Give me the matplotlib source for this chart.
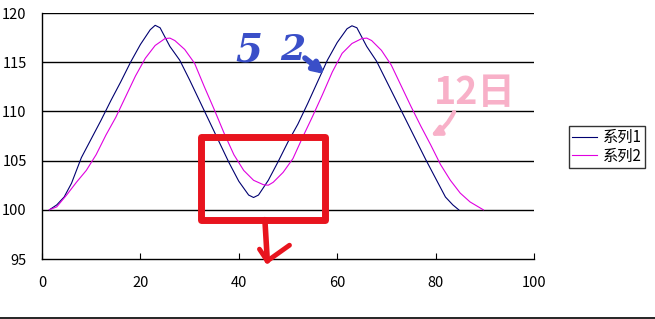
import numpy as np
import matplotlib.pyplot as plt
from matplotlib.patches import Rectangle

plt.rcParams['font.family'] = ['Noto Sans CJK SC', 'DejaVu Sans']

# series
s1_x = [1.5, 3, 4.5, 6, 8, 10, 12, 14, 16, 18, 20, 22, 23, 24, 26, 28, 30, 32, 34, 36, 38,
        40, 42, 43, 44, 46, 48, 50, 52, 54, 56, 58, 60, 62, 63, 64, 66, 68, 70, 72, 74, 76,
        78, 80, 82, 83.5, 84.7]
s1_y = [100, 100.5, 101.3, 102.7, 105.3, 107.2, 109.1, 111.1, 113.0, 115.0, 116.8, 118.3,
        118.75, 118.5, 116.6, 115.2, 113.2, 111.1, 109.0, 106.9, 104.8, 102.9, 101.5, 101.25,
        101.5, 103.0, 104.9, 106.9, 108.7, 110.8, 113.0, 115.2, 117.0, 118.4, 118.7, 118.5,
        116.6, 115.1, 113.1, 111.1, 109.1, 107.1, 105.1, 103.2, 101.3, 100.5, 100]

s2_x = [1.5, 3, 5, 7, 9, 11, 13, 15, 17, 19, 21, 23, 25, 26, 27, 29, 31, 33, 35, 37, 39,
        41, 43, 45, 46, 47, 49, 51, 53, 55, 57, 59, 61, 63, 65, 66, 67, 69, 71, 73, 75, 77,
        79, 81, 83, 85, 87, 89.7]
s2_y = [100, 100.3, 101.5, 102.8, 104.0, 105.6, 107.6, 109.4, 111.5, 113.6, 115.4, 116.7,
        117.4, 117.45, 117.2, 116.3, 114.9, 112.5, 110.2, 107.8, 105.6, 104.0, 103.0, 102.55,
        102.5, 102.8, 103.8, 105.2, 107.4, 109.5, 111.7, 114.0, 115.9, 116.9, 117.4, 117.45,
        117.2, 116.2, 114.7, 112.6, 110.5, 108.5, 106.6, 104.6, 103.0, 101.7, 100.8, 100]

series_names = ['系列1', '系列2']
series_colors = ['#000070', '#e000e0']
x_ticks = [0, 20, 40, 60, 80, 100]
y_ticks = [95, 100, 105, 110, 115, 120]

fig = plt.figure(figsize=(6.55, 3.19), dpi=100)
ax = fig.add_axes([42/655, 60/319, 492/655, 246/319])

ax.plot(s1_x, s1_y, color=series_colors[0], lw=0.8, label=series_names[0])
ax.plot(s2_x, s2_y, color=series_colors[1], lw=0.8, label=series_names[1])

ax.set_xlim(0, 100)
ax.set_ylim(95, 120)
ax.set_xticks(x_ticks)
ax.set_yticks(y_ticks)
for yv in y_ticks[1:]:
    ax.axhline(yv, color='black', lw=1, zorder=0)
for s in ['top', 'right']:
    ax.spines[s].set_visible(False)
ax.spines['left'].set_linewidth(1)
ax.spines['bottom'].set_linewidth(1)
ax.tick_params(axis='x', direction='in', length=4, pad=12, labelsize=10.5)
ax.tick_params(axis='y', length=0, pad=11, labelsize=10.5)

leg = ax.legend(loc='center left', bbox_to_anchor=(569/655, 1 - 147/319),
                bbox_transform=fig.transFigure, fontsize=11, frameon=True, fancybox=False,
                handlelength=1.6, handletextpad=0.4, borderpad=0.2, labelspacing=0.1,
                borderaxespad=0)
leg.get_frame().set_edgecolor('black')
leg.get_frame().set_linewidth(1)

# hand-drawn marks
ax.text(42, 116.2, '5', color='#3a4fc8', fontsize=28, fontweight='bold', style='italic',
        family='DejaVu Serif', ha='center', va='center')
ax.text(51, 116.2, '2', color='#3a4fc8', fontsize=26, fontweight='bold', style='italic',
        family='DejaVu Serif', ha='center', va='center')
ax.annotate('', xy=(58, 113.6), xytext=(53, 115.6),
            arrowprops=dict(arrowstyle='-|>', color='#3a4fc8', lw=4, mutation_scale=16))

ax.text(88, 111.9, '12日', color='#f8b0c8', fontsize=27, fontweight='bold',
        ha='center', va='center', style='italic')
ax.annotate('', xy=(78.5, 107.4), xytext=(84, 110.2),
            arrowprops=dict(arrowstyle='-|>', color='#f8b0c8', lw=3, mutation_scale=14,
                            connectionstyle='arc3,rad=-0.2'))

ax.add_patch(Rectangle((32.3, 99.0), 25.2, 8.4, fill=False, edgecolor='#e8141e', lw=5,
                       joinstyle='round', clip_on=False, zorder=5))
ax.plot([45.3, 45.8], [99.0, 94.8], color='#e8141e', lw=4, clip_on=False, zorder=5,
        solid_capstyle='round')
ax.plot([44.2, 45.8, 50.3], [96.0, 94.8, 96.4], color='#e8141e', lw=3.5, clip_on=False,
        zorder=5, solid_capstyle='round')

fig.add_artist(plt.Line2D([0, 1], [1.5/319, 1.5/319], color='black', lw=1.2,
                          transform=fig.transFigure))

fig.savefig('out.png', dpi=100)
